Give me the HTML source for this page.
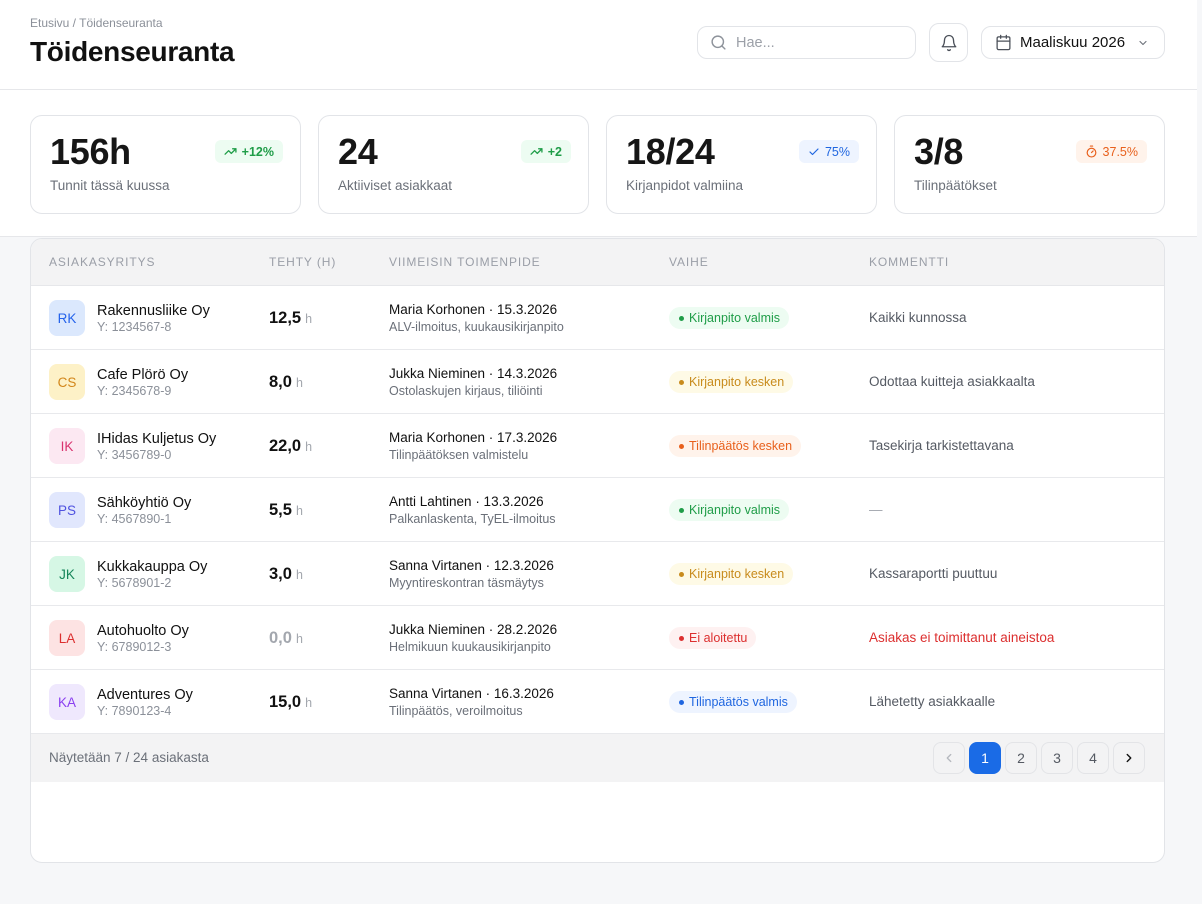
<!DOCTYPE html>
<html><head><meta charset="utf-8">
<style>
*{box-sizing:border-box;margin:0;padding:0}
html,body{width:1202px;height:904px;overflow:hidden;background:#f6f7f9;font-family:"Liberation Sans",sans-serif;color:#111827}
.a{position:absolute}
#hdr{position:absolute;left:0;top:0;width:1197px;height:90px;background:#fff;border-bottom:1px solid #e6e7ea}
#stats{position:absolute;left:0;top:90px;width:1197px;height:147px;background:#fff;border-bottom:1px solid #e6e7ea}
.crumb{left:30px;top:15px;font-size:12px;line-height:16px;color:#8b9099}
.title{left:30px;top:35px;font-size:28px;line-height:34px;font-weight:bold;letter-spacing:-0.3px;color:#111}
.box{border:1px solid #e2e4e8;border-radius:10px;background:#fff}
svg{display:block}
.card{position:absolute;top:25px;width:271px;height:99px;border:1px solid #e2e4e8;border-radius:12px;background:#fff}
.num{position:absolute;left:19px;top:16px;font-size:36px;line-height:40px;font-weight:bold;color:#161616;letter-spacing:-0.3px}
.lbl{position:absolute;left:19px;top:61px;font-size:13.5px;line-height:18px;color:#6b7079}
.badge{position:absolute;right:17px;top:24px;height:23px;border-radius:6px;padding:0 9px;display:flex;align-items:center;gap:5px;font-size:12.5px;font-weight:bold}
#tbl{position:absolute;left:30px;top:238px;width:1135px;height:625px;border:1px solid #e2e4e8;border-radius:12px;background:#fff;overflow:hidden}
.th{position:absolute;left:0;top:0;width:100%;height:47px;background:#f3f3f4;border-bottom:1px solid #e6e7ea}
.th div{position:absolute;top:15px;font-size:12px;line-height:16px;letter-spacing:0.9px;color:#9a9ea7}
.row{position:absolute;left:0;width:100%;height:64px;border-bottom:1px solid #e8e9ec}
.av{position:absolute;left:18px;top:14px;width:36px;height:36px;border-radius:8px;display:flex;align-items:center;justify-content:center;font-size:13.5px}
.nm{position:absolute;left:66px;top:15px;font-size:14.5px;line-height:20px;color:#111}
.sb{position:absolute;top:33px;font-size:12.5px;line-height:16px;color:#8b9099}
.hr{position:absolute;left:238px;top:22px;font-size:16.5px;line-height:20px;font-weight:bold;color:#111}
.hr span{font-size:12.5px;font-weight:normal;color:#a3a7ae;margin-left:4px}
.ac{position:absolute;left:358px;top:14px;font-size:13.5px;line-height:20px;color:#111}
.pill{position:absolute;left:638px;top:21px;height:22px;border-radius:11px;padding:0 9px 0 10px;display:flex;align-items:center;gap:5px;font-size:12.5px}
.pill i{display:block;width:5px;height:5px;border-radius:50%}
.cm{position:absolute;left:838px;top:22px;font-size:13.5px;line-height:20px;color:#555a63}
.g{background:#edfcf2;color:#1f9d48}.g i{background:#1f9d48}
.y{background:#fefae6;color:#c88b1c}.y i{background:#c88b1c}
.o{background:#fff3eb;color:#e8601c}.o i{background:#e8601c}
.r{background:#fef1f1;color:#dc2f2f}.r i{background:#dc2f2f}
.b{background:#eef4ff;color:#1f66e0}.b i{background:#1f66e0}
.ft{position:absolute;left:0;top:495px;width:100%;height:48px;background:#f3f3f4}
.pg{position:absolute;right:19px;top:8px;display:flex;gap:4px}
.pg div{width:32px;height:32px;border:1px solid #e3e4e7;border-radius:8px;display:flex;align-items:center;justify-content:center;font-size:14px;color:#555a63}
</style></head><body>

<div id="hdr">
  <div class="a crumb">Etusivu / Töidenseuranta</div>
  <div class="a title">Töidenseuranta</div>
  <div class="a box" style="left:697px;top:26px;width:219px;height:33px;">
    <svg class="a" style="left:12px;top:7px" width="17" height="17" viewBox="0 0 24 24" fill="none" stroke="#8e939b" stroke-width="2" stroke-linecap="round"><circle cx="11" cy="11" r="8"/><path d="m21 21-4.3-4.3"/></svg>
    <div class="a" style="left:38px;top:6px;font-size:14.5px;line-height:20px;color:#9ca0a8">Hae...</div>
  </div>
  <div class="a box" style="left:929px;top:23px;width:39px;height:39px;">
    <svg class="a" style="left:10px;top:10px" width="18" height="18" viewBox="0 0 24 24" fill="none" stroke="#4b5059" stroke-width="1.8" stroke-linecap="round" stroke-linejoin="round"><path d="M6 8a6 6 0 0 1 12 0c0 7 3 9 3 9H3s3-2 3-9"/><path d="M10.3 21a1.94 1.94 0 0 0 3.4 0"/></svg>
  </div>
  <div class="a box" style="left:981px;top:26px;width:184px;height:33px;">
    <svg class="a" style="left:13px;top:7px" width="17" height="17" viewBox="0 0 24 24" fill="none" stroke="#4b5059" stroke-width="1.8" stroke-linecap="round"><rect width="18" height="18" x="3" y="4" rx="2"/><line x1="16" x2="16" y1="2" y2="6"/><line x1="8" x2="8" y1="2" y2="6"/><line x1="3" x2="21" y1="10" y2="10"/></svg>
    <div class="a" style="left:38px;top:6px;font-size:15px;line-height:20px;color:#111">Maaliskuu 2026</div>
    <svg class="a" style="left:155px;top:10px" width="12" height="12" viewBox="0 0 24 24" fill="none" stroke="#6b7079" stroke-width="2.2" stroke-linecap="round" stroke-linejoin="round"><path d="m6 9 6 6 6-6"/></svg>
  </div>
</div>

<div id="stats">
  <div class="card" style="left:30px">
    <div class="num">156h</div><div class="lbl">Tunnit tässä kuussa</div>
    <div class="badge g"><svg width="13" height="13" viewBox="0 0 24 24" fill="none" stroke="#1f9d48" stroke-width="2.4" stroke-linecap="round" stroke-linejoin="round"><polyline points="22 7 13.5 15.5 8.5 10.5 2 17"/><polyline points="16 7 22 7 22 13"/></svg>+12%</div>
  </div>
  <div class="card" style="left:318px">
    <div class="num">24</div><div class="lbl">Aktiiviset asiakkaat</div>
    <div class="badge g"><svg width="13" height="13" viewBox="0 0 24 24" fill="none" stroke="#1f9d48" stroke-width="2.4" stroke-linecap="round" stroke-linejoin="round"><polyline points="22 7 13.5 15.5 8.5 10.5 2 17"/><polyline points="16 7 22 7 22 13"/></svg>+2</div>
  </div>
  <div class="card" style="left:606px">
    <div class="num">18/24</div><div class="lbl">Kirjanpidot valmiina</div>
    <div class="badge b" style="font-weight:normal"><svg width="12" height="12" viewBox="0 0 24 24" fill="none" stroke="#1f66e0" stroke-width="2.4" stroke-linecap="round" stroke-linejoin="round"><path d="M20 6 9 17l-5-5"/></svg>75%</div>
  </div>
  <div class="card" style="left:894px">
    <div class="num">3/8</div><div class="lbl">Tilinpäätökset</div>
    <div class="badge o" style="font-weight:normal"><svg width="13" height="13" viewBox="0 0 24 24" fill="none" stroke="#e8601c" stroke-width="2.2" stroke-linecap="round" stroke-linejoin="round"><line x1="10" x2="14" y1="2" y2="2"/><line x1="12" x2="15" y1="14" y2="11"/><circle cx="12" cy="14" r="8"/></svg>37.5%</div>
  </div>
</div>

<div id="tbl">
  <div class="th">
    <div style="left:18px">ASIAKASYRITYS</div>
    <div style="left:238px">TEHTY (H)</div>
    <div style="left:358px">VIIMEISIN TOIMENPIDE</div>
    <div style="left:638px">VAIHE</div>
    <div style="left:838px">KOMMENTTI</div>
  </div>

  <div class="row" style="top:47px">
    <div class="av" style="background:#dbe8fd;color:#2563eb">RK</div>
    <div class="nm">Rakennusliike Oy</div><div class="sb" style="left:66px">Y: 1234567-8</div>
    <div class="hr">12,5<span>h</span></div>
    <div class="ac">Maria Korhonen · 15.3.2026</div><div class="sb" style="left:358px;color:#6b7079">ALV-ilmoitus, kuukausikirjanpito</div>
    <div class="pill g"><i></i>Kirjanpito valmis</div>
    <div class="cm">Kaikki kunnossa</div>
  </div>
  <div class="row" style="top:111px">
    <div class="av" style="background:#fdf1c7;color:#d2861a">CS</div>
    <div class="nm">Cafe Plörö Oy</div><div class="sb" style="left:66px">Y: 2345678-9</div>
    <div class="hr">8,0<span>h</span></div>
    <div class="ac">Jukka Nieminen · 14.3.2026</div><div class="sb" style="left:358px;color:#6b7079">Ostolaskujen kirjaus, tiliöinti</div>
    <div class="pill y"><i></i>Kirjanpito kesken</div>
    <div class="cm">Odottaa kuitteja asiakkaalta</div>
  </div>
  <div class="row" style="top:175px">
    <div class="av" style="background:#fce8f2;color:#d9336f">IK</div>
    <div class="nm">IHidas Kuljetus Oy</div><div class="sb" style="left:66px">Y: 3456789-0</div>
    <div class="hr">22,0<span>h</span></div>
    <div class="ac">Maria Korhonen · 17.3.2026</div><div class="sb" style="left:358px;color:#6b7079">Tilinpäätöksen valmistelu</div>
    <div class="pill o"><i></i>Tilinpäätös kesken</div>
    <div class="cm">Tasekirja tarkistettavana</div>
  </div>
  <div class="row" style="top:239px">
    <div class="av" style="background:#e1e7fd;color:#4f52e0">PS</div>
    <div class="nm">Sähköyhtiö Oy</div><div class="sb" style="left:66px">Y: 4567890-1</div>
    <div class="hr">5,5<span>h</span></div>
    <div class="ac">Antti Lahtinen · 13.3.2026</div><div class="sb" style="left:358px;color:#6b7079">Palkanlaskenta, TyEL-ilmoitus</div>
    <div class="pill g"><i></i>Kirjanpito valmis</div>
    <div class="cm" style="color:#a3a7ae">—</div>
  </div>
  <div class="row" style="top:303px">
    <div class="av" style="background:#d6f7e5;color:#16865a">JK</div>
    <div class="nm">Kukkakauppa Oy</div><div class="sb" style="left:66px">Y: 5678901-2</div>
    <div class="hr">3,0<span>h</span></div>
    <div class="ac">Sanna Virtanen · 12.3.2026</div><div class="sb" style="left:358px;color:#6b7079">Myyntireskontran täsmäytys</div>
    <div class="pill y"><i></i>Kirjanpito kesken</div>
    <div class="cm">Kassaraportti puuttuu</div>
  </div>
  <div class="row" style="top:367px">
    <div class="av" style="background:#fde3e3;color:#dc2f2f">LA</div>
    <div class="nm">Autohuolto Oy</div><div class="sb" style="left:66px">Y: 6789012-3</div>
    <div class="hr" style="color:#a3a7ae">0,0<span>h</span></div>
    <div class="ac">Jukka Nieminen · 28.2.2026</div><div class="sb" style="left:358px;color:#6b7079">Helmikuun kuukausikirjanpito</div>
    <div class="pill r"><i></i>Ei aloitettu</div>
    <div class="cm" style="color:#dc2f2f">Asiakas ei toimittanut aineistoa</div>
  </div>
  <div class="row" style="top:431px">
    <div class="av" style="background:#efe8fd;color:#8a3ff0">KA</div>
    <div class="nm">Adventures Oy</div><div class="sb" style="left:66px">Y: 7890123-4</div>
    <div class="hr">15,0<span>h</span></div>
    <div class="ac">Sanna Virtanen · 16.3.2026</div><div class="sb" style="left:358px;color:#6b7079">Tilinpäätös, veroilmoitus</div>
    <div class="pill b"><i></i>Tilinpäätös valmis</div>
    <div class="cm">Lähetetty asiakkaalle</div>
  </div>

  <div class="ft">
    <div class="a" style="left:18px;top:14px;font-size:13.5px;line-height:20px;color:#6b7079">Näytetään 7 / 24 asiakasta</div>
    <div class="pg">
      <div><svg width="14" height="14" viewBox="0 0 24 24" fill="none" stroke="#b5b8be" stroke-width="2.2" stroke-linecap="round" stroke-linejoin="round"><path d="m15 18-6-6 6-6"/></svg></div>
      <div style="background:#1a6be6;border-color:#1a6be6;color:#fff">1</div>
      <div>2</div>
      <div>3</div>
      <div>4</div>
      <div><svg width="14" height="14" viewBox="0 0 24 24" fill="none" stroke="#111" stroke-width="2.4" stroke-linecap="round" stroke-linejoin="round"><path d="m9 18 6-6-6-6"/></svg></div>
    </div>
  </div>
</div>

</body></html>
